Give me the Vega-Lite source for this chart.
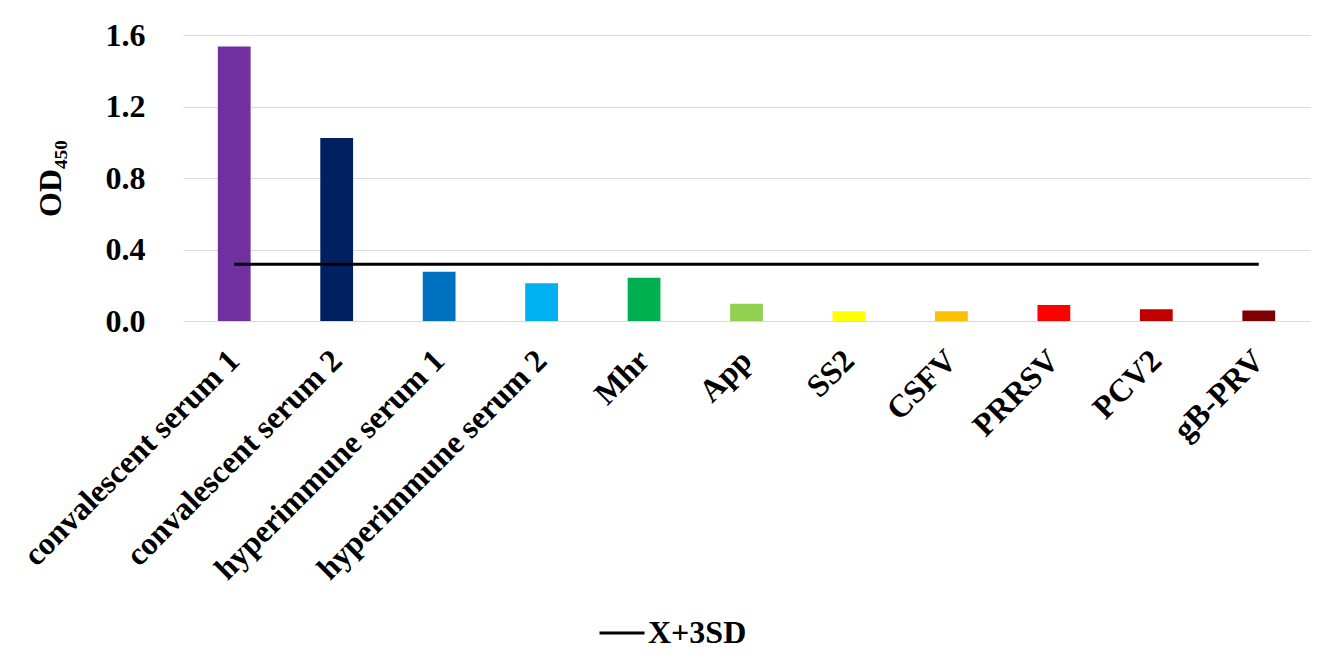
{
  "$schema": "https://vega.github.io/schema/vega-lite/v6.json",
  "width": 1127,
  "height": 286,
  "autosize": "none",
  "padding": {"left": 183, "top": 35, "right": 27, "bottom": 345},
  "background": "white",
  "config": {
    "font": "Liberation Serif",
    "view": {"stroke": null},
    "axis": {"labelFont": "Liberation Serif", "titleFont": "Liberation Serif", "labelColor": "black", "titleColor": "black"}
  },
  "data": {
    "values": [
      {"sample": "convalescent serum 1", "od": 1.535, "cutoff": 0.318},
      {"sample": "convalescent serum 2", "od": 1.024, "cutoff": 0.318},
      {"sample": "hyperimmune serum 1", "od": 0.276, "cutoff": 0.318},
      {"sample": "hyperimmune serum 2", "od": 0.211, "cutoff": 0.318},
      {"sample": "Mhr", "od": 0.242, "cutoff": 0.318},
      {"sample": "App", "od": 0.097, "cutoff": 0.318},
      {"sample": "SS2", "od": 0.054, "cutoff": 0.318},
      {"sample": "CSFV", "od": 0.054, "cutoff": 0.318},
      {"sample": "PRRSV", "od": 0.089, "cutoff": 0.318},
      {"sample": "PCV2", "od": 0.066, "cutoff": 0.318},
      {"sample": "gB-PRV", "od": 0.059, "cutoff": 0.318}
    ]
  },
  "encoding": {
    "x": {
      "field": "sample",
      "type": "nominal",
      "sort": null,
      "scale": {"paddingInner": 0.68, "paddingOuter": 0.34},
      "axis": {
        "title": null,
        "labelAngle": -45,
        "labelAlign": "right",
        "labelBaseline": "middle",
        "labelFontSize": 32,
        "labelFontWeight": "bold",
        "labelPadding": 34,
        "ticks": false,
        "domain": false,
        "labelLimit": 0
      }
    }
  },
  "layer": [
    {
      "mark": {"type": "bar"},
      "encoding": {
        "y": {
          "field": "od",
          "type": "quantitative",
          "scale": {"domain": [0, 1.6]},
          "axis": {
            "title": "OD₄₅₀",
            "values": [0, 0.4, 0.8, 1.2, 1.6],
            "format": ".1f",
            "labelFontSize": 32,
            "labelFontWeight": "bold",
            "labelPadding": 38,
            "titleFontSize": 32,
            "titleFontWeight": "bold",
            "titlePadding": 38,
            "ticks": false,
            "domain": false,
            "grid": true,
            "gridColor": "#D9D9D9",
            "gridWidth": 1
          }
        },
        "color": {
          "field": "sample",
          "type": "nominal",
          "sort": null,
          "scale": {
            "domain": ["convalescent serum 1", "convalescent serum 2", "hyperimmune serum 1", "hyperimmune serum 2", "Mhr", "App", "SS2", "CSFV", "PRRSV", "PCV2", "gB-PRV"],
            "range": ["#7030A0", "#002060", "#0070C0", "#00B0F0", "#00B050", "#92D050", "#FFFF00", "#FFC000", "#FF0000", "#C00000", "#7F0000"]
          },
          "legend": null
        }
      }
    },
    {
      "mark": {"type": "line", "strokeWidth": 3, "color": "black"},
      "encoding": {
        "y": {"field": "cutoff", "type": "quantitative"},
        "stroke": {
          "datum": "X+3SD",
          "type": "nominal",
          "scale": {"range": ["black"]},
          "legend": {
            "title": null,
            "orient": "none",
            "legendX": 415,
            "legendY": 574,
            "padding": 0,
            "symbolType": "stroke",
            "symbolSize": 2025,
            "symbolStrokeWidth": 3,
            "labelFont": "Liberation Serif",
            "labelFontSize": 32,
            "labelFontWeight": "bold",
            "labelColor": "black",
            "labelOffset": 2
          }
        }
      }
    }
  ]
}
